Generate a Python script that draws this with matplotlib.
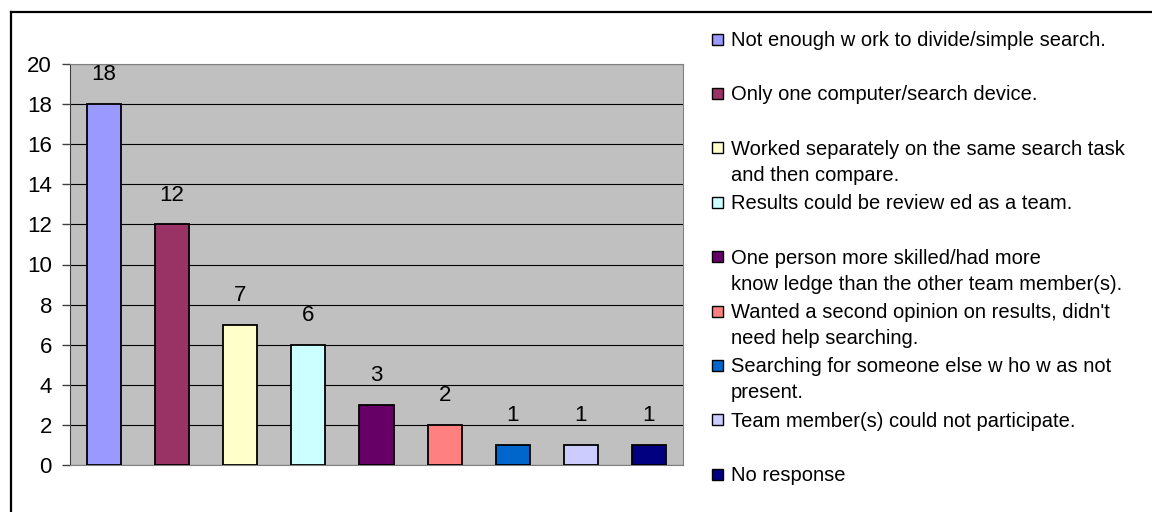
import matplotlib
matplotlib.use("Agg")
import matplotlib.pyplot as plt
from matplotlib.lines import Line2D
from matplotlib.patches import Rectangle

plt.rcParams["font.family"] = ["Liberation Sans", "DejaVu Sans"]

reasons = [
    "Not enough w ork to divide/simple search.",
    "Only one computer/search device.",
    "Worked separately on the same search task\nand then compare.",
    "Results could be review ed as a team.",
    "One person more skilled/had more\nknow ledge than the other team member(s).",
    "Wanted a second opinion on results, didn't\nneed help searching.",
    "Searching for someone else w ho w as not\npresent.",
    "Team member(s) could not participate.",
    "No response",
]
counts = [18, 12, 7, 6, 3, 2, 1, 1, 1]
colors = ["#9999FF", "#993366", "#FFFFCC", "#CCFFFF", "#660066",
          "#FF8080", "#0066CC", "#CCCCFF", "#000080"]
yticks = [0, 2, 4, 6, 8, 10, 12, 14, 16, 18, 20]

W, H = 1152, 512
fig = plt.figure(figsize=(W / 100, H / 100), dpi=100)
fig.patch.set_facecolor("white")

# outer chart frame (left and top edges visible)
fig.add_artist(Line2D([11 / W, 11 / W], [0, 1 - 12 / H], color="black", lw=1.6,
                      transform=fig.transFigure))
fig.add_artist(Line2D([11 / W, 1], [1 - 12 / H, 1 - 12 / H], color="black", lw=1.6,
                      transform=fig.transFigure))

ax = fig.add_axes([70 / W, 1 - 465 / H, (683 - 70) / W, (465 - 64) / H])
ax.set_facecolor("#C0C0C0")
x = range(len(counts))
ax.bar(x, counts, width=0.5, color=colors, edgecolor="black", linewidth=1.3, zorder=3)
for i, v in enumerate(counts):
    ax.annotate(str(v), (i, v), xytext=(0, 13.5), textcoords="offset points",
                ha="center", va="bottom", fontsize=16)

ax.set_xlim(-0.5, len(counts) - 0.5)
ax.set_ylim(0, 20)
ax.set_yticks(yticks)
ax.set_xticks([])
ax.yaxis.grid(True, color="black", lw=0.8, zorder=1)
ax.tick_params(axis="y", length=6, width=1, color="#404040", pad=7, labelsize=16)
for side in ["top", "right", "bottom"]:
    ax.spines[side].set_color("#808080")
ax.spines["left"].set_color("#404040")

# legend, one slot per reason; lines laid out by baseline
for i, (label, c) in enumerate(zip(reasons, colors)):
    yc = 39 + i * 54.4
    fig.add_artist(Rectangle((712 / W, 1 - (yc + 5.5) / H), 11 / W, 11 / H,
                             facecolor=c, edgecolor="black", lw=1,
                             transform=fig.transFigure))
    for k, line in enumerate(label.split("\n")):
        fig.text(731 / W, 1 - (yc + 7 + 26 * k) / H, line, fontsize=14.5,
                 va="baseline", ha="left")

fig.savefig("out.png", dpi=100)
